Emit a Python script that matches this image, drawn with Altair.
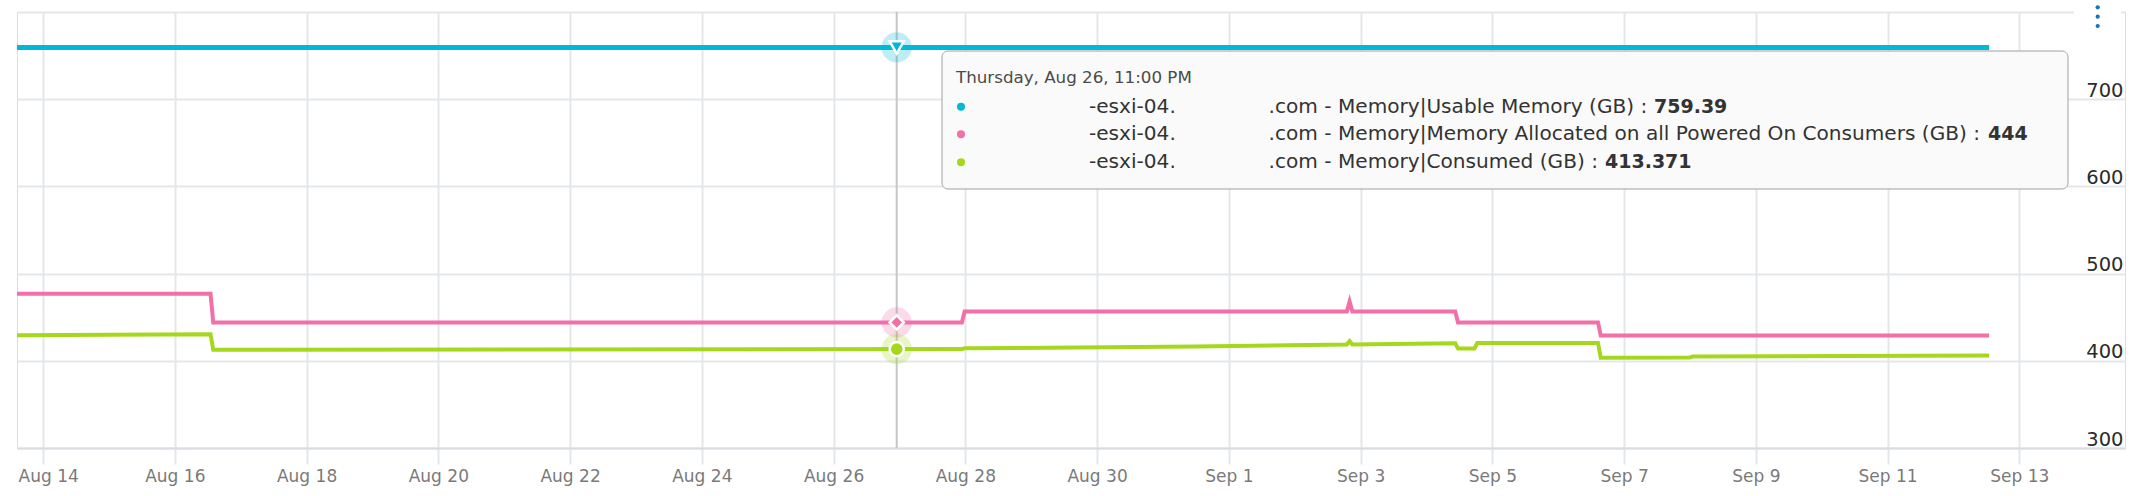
import altair as alt
import pandas as pd

# ---------------- data ----------------
usable_times = ["2021-08-13T14:30:00Z", "2021-09-12T13:00:00Z"]
usable_vals = [759.39, 759.39]

alloc_times = ["2021-08-13T14:30:00Z", "2021-08-16T13:00:00Z", "2021-08-16T14:00:00Z",
               "2021-08-27T22:45:00Z", "2021-08-27T23:45:00Z", "2021-09-02T19:00:00Z",
               "2021-09-02T20:00:00Z", "2021-09-02T21:00:00Z", "2021-09-04T10:30:00Z",
               "2021-09-04T11:30:00Z", "2021-09-06T14:30:00Z", "2021-09-06T15:30:00Z",
               "2021-09-12T13:00:00Z"]
alloc_vals = [477, 477, 444, 444, 456.5, 456.5, 468, 456.5, 456.5, 444, 444, 429, 429]

consumed_times = ["2021-08-13T14:30:00Z", "2021-08-15T00:00:00Z", "2021-08-16T13:00:00Z",
                  "2021-08-16T14:00:00Z", "2021-08-21T00:00:00Z", "2021-08-27T22:45:00Z",
                  "2021-08-27T23:45:00Z", "2021-08-31T12:00:00Z", "2021-09-02T19:00:00Z",
                  "2021-09-02T20:00:00Z", "2021-09-02T21:00:00Z", "2021-09-04T10:30:00Z",
                  "2021-09-04T11:30:00Z", "2021-09-04T17:30:00Z", "2021-09-04T18:30:00Z",
                  "2021-09-06T14:30:00Z", "2021-09-06T15:30:00Z", "2021-09-08T00:00:00Z",
                  "2021-09-08T01:00:00Z", "2021-09-12T13:00:00Z"]
consumed_vals = [429.3, 430.0, 430.5, 412.6, 413.0, 413.4, 414.3, 416.5, 418.8, 422.5,
                 418.8, 420.0, 414.0, 414.0, 420.5, 420.5, 403.5, 403.8, 404.8, 406.0]

hover_time = "2021-08-26T23:00:00Z"
hover_vals = [759.39, 444, 413.371]
hover_shapes = ["triangle-down", "diamond", "circle"]

series_colors = ["#00b8d8", "#f26fa8", "#a5d81d"]
series_widths = [5, 4, 4]

x_ticks = ["2021-08-14", "2021-08-16", "2021-08-18", "2021-08-20", "2021-08-22",
           "2021-08-24", "2021-08-26", "2021-08-28", "2021-08-30", "2021-09-01",
           "2021-09-03", "2021-09-05", "2021-09-07", "2021-09-09", "2021-09-11",
           "2021-09-13"]
x_domain = ["2021-08-13T14:30:00", "2021-09-14T14:30:00"]
y_ticks = [300, 400, 500, 600, 700, 800]

tooltip_header = "Thursday, Aug 26, 11:00 PM"
tooltip_host = "-esxi-04."
tooltip_metrics = [".com - Memory|Usable Memory (GB) : ",
                   ".com - Memory|Memory Allocated on all Powered On Consumers (GB) : ",
                   ".com - Memory|Consumed (GB) : "]
tooltip_values = ["759.39", "444", "413.371"]

FONT = "DejaVu Sans"


def ms(s):
    return int(pd.Timestamp(s).value // 10**6)


x_scale = alt.Scale(type="utc", domain=[ms(d) for d in x_domain], nice=False)
y_scale = alt.Scale(domain=[300, 800], nice=False, zero=False)

x_axis = alt.Axis(values=[ms(d) for d in x_ticks],
                  labelExpr="utcFormat(datum.value, '%b %-d')",
                  grid=True, gridColor="#e4e7ea", gridWidth=2,
                  domainColor="#d9dde1", domainWidth=2,
                  tickColor="#e4e7ea", tickWidth=2, tickSize=16,
                  labelPadding=4, labelFont=FONT, labelFontSize=17,
                  labelColor="#7a7a7a", title=None,
                  labelFlush=30, labelFlushOffset=25,
                  labelOverlap=False)
y_axis = alt.Axis(orient="right", values=y_ticks,
                  labelExpr="datum.value == 800 ? '' : datum.label",
                  grid=True, gridColor="#e4e7ea", gridWidth=2,
                  domain=False, ticks=False, tickSize=0,
                  labelAlign="right", labelBaseline="bottom",
                  labelPadding=-2, labelOffset=1,
                  labelFont=FONT, labelFontSize=19.5, labelColor="#2b2b2b",
                  title=None, labelFlush=False, labelOverlap=False)

X = alt.X("t:T", scale=x_scale, axis=x_axis)
Y = alt.Y("v:Q", scale=y_scale, axis=y_axis)
Xn = alt.X("t:T", scale=x_scale)
Yn = alt.Y("v:Q", scale=y_scale)

layers = []

# axes carrier + crosshair
hover_df = pd.DataFrame({"t": [hover_time], "v": [hover_vals[0]]})
layers.append(alt.Chart(hover_df).mark_rule(color="#c6c6c6", strokeWidth=2)
              .encode(x=X, y=alt.value(0), y2=alt.value(436)))

series = [(usable_times, usable_vals), (alloc_times, alloc_vals), (consumed_times, consumed_vals)]
for i, ((ts, vs), c, w) in enumerate(zip(series, series_colors, series_widths)):
    df = pd.DataFrame({"t": ts, "v": vs})
    layers.append(alt.Chart(df).mark_line(color=c, strokeWidth=w, interpolate="linear")
                  .encode(x=Xn, y=Y if i == 0 else Yn))

for v, c, shp in zip(hover_vals, series_colors, hover_shapes):
    df = pd.DataFrame({"t": [hover_time], "v": [v]})
    layers.append(alt.Chart(df).mark_circle(color=c, opacity=0.25, size=908)
                  .encode(x=Xn, y=Yn))
    layers.append(alt.Chart(df).mark_point(shape=shp, filled=True, fill=c, opacity=1,
                                            stroke="white", strokeWidth=2.5, size=200)
                  .encode(x=Xn, y=Yn))

# tooltip box
one = pd.DataFrame({"k": [0]})
layers.append(alt.Chart(one).mark_rect(fill="#fafafa", fillOpacity=0.93, stroke="#a0a0a0",
                                        strokeWidth=1, cornerRadius=6)
              .encode(x=alt.value(925), x2=alt.value(2051), y=alt.value(39), y2=alt.value(177)))
layers.append(alt.Chart(pd.DataFrame({"s": [tooltip_header]}))
              .mark_text(align="left", baseline="middle", font=FONT, fontSize=16.7, color="#4a4a4a")
              .encode(text="s:N", x=alt.value(939), y=alt.value(66)))
row_y = [94.7, 122.3, 150.3]
value_x = [1637, 1971, 1588]
for i in range(3):
    layers.append(alt.Chart(one).mark_circle(color=series_colors[i], opacity=1, size=64)
                  .encode(x=alt.value(944), y=alt.value(row_y[i])))
    layers.append(alt.Chart(pd.DataFrame({"s": [tooltip_host]}))
                  .mark_text(align="left", baseline="middle", font=FONT, fontSize=20.1, color="#333333")
                  .encode(text="s:N", x=alt.value(1072), y=alt.value(row_y[i])))
    layers.append(alt.Chart(pd.DataFrame({"s": [tooltip_metrics[i]]}))
                  .mark_text(align="left", baseline="middle", font=FONT, fontSize=20.1, color="#333333")
                  .encode(text="s:N", x=alt.value(1251.6), y=alt.value(row_y[i])))
    layers.append(alt.Chart(pd.DataFrame({"s": [tooltip_values[i]]}))
                  .mark_text(align="left", baseline="middle", font=FONT, fontSize=19,
                             fontWeight="bold", color="#333333")
                  .encode(text="s:N", x=alt.value(value_x[i]), y=alt.value(row_y[i])))

# menu icon
layers.append(alt.Chart(one).mark_rect(fill="white")
              .encode(x=alt.value(2057), x2=alt.value(2104), y=alt.value(-2), y2=alt.value(2)))
for yy in [-4.7, 4.7, 14]:
    layers.append(alt.Chart(one).mark_circle(color="#1a73b8", opacity=1, size=18)
                  .encode(x=alt.value(2080.7), y=alt.value(yy)))

chart = alt.layer(*layers).properties(
    width=2108, height=436,
    autosize=alt.AutoSizeParams(type="none"),
    padding={"left": 17, "top": 12, "right": 12, "bottom": 48},
).configure_view(stroke=None).configure(background="white")

chart.save("out.html", embed_options={"renderer": "svg", "actions": False})
